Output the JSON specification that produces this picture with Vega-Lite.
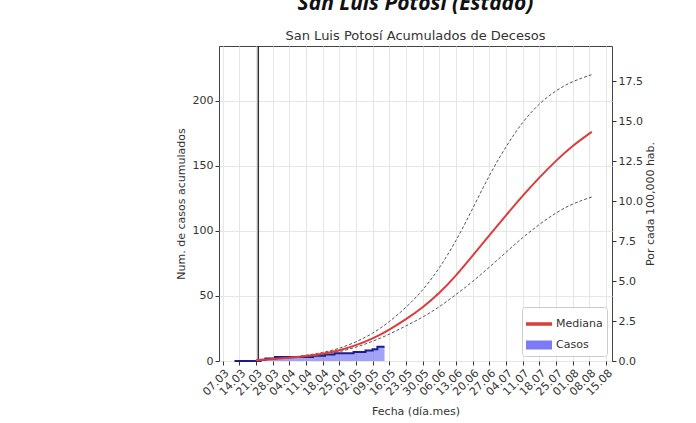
{
  "$schema": "https://vega.github.io/schema/vega-lite/v6.json",
  "width": 393,
  "height": 315,
  "autosize": {"type": "none"},
  "padding": {"left": 219, "top": 46, "right": 84, "bottom": 62},
  "background": "white",
  "title": {
    "text": "San Luis Potosí (Estado)",
    "subtitle": "San Luis Potosí Acumulados de Decesos",
    "frame": "group",
    "anchor": "middle",
    "font": "Open Sans",
    "fontSize": 21,
    "fontWeight": "bold",
    "fontStyle": "italic",
    "color": "#111111",
    "subtitleFont": "DejaVu Sans",
    "subtitleFontSize": 13,
    "subtitleColor": "#333333",
    "subtitlePadding": 16,
    "offset": 2
  },
  "datasets": {
    "curvas": [
      {"fecha": "2020-03-21", "mediana": 0.5, "sup": 0.5, "inf": 0.5},
      {"fecha": "2020-03-28", "mediana": 1.5, "sup": 1.5, "inf": 1.5},
      {"fecha": "2020-04-04", "mediana": 2.5, "sup": 2.8, "inf": 2.3},
      {"fecha": "2020-04-11", "mediana": 3.8, "sup": 4.3, "inf": 3.4},
      {"fecha": "2020-04-18", "mediana": 5.5, "sup": 6.5, "inf": 4.8},
      {"fecha": "2020-04-25", "mediana": 8, "sup": 9.5, "inf": 7},
      {"fecha": "2020-05-02", "mediana": 12, "sup": 14.5, "inf": 10.5},
      {"fecha": "2020-05-09", "mediana": 17, "sup": 21, "inf": 15},
      {"fecha": "2020-05-16", "mediana": 24, "sup": 30, "inf": 20.5},
      {"fecha": "2020-05-23", "mediana": 32, "sup": 41, "inf": 27},
      {"fecha": "2020-05-30", "mediana": 41, "sup": 54, "inf": 33.5},
      {"fecha": "2020-06-06", "mediana": 52, "sup": 71, "inf": 41.5},
      {"fecha": "2020-06-13", "mediana": 65.5, "sup": 92, "inf": 51},
      {"fecha": "2020-06-20", "mediana": 81, "sup": 117, "inf": 61},
      {"fecha": "2020-06-27", "mediana": 96.5, "sup": 143, "inf": 72},
      {"fecha": "2020-07-04", "mediana": 112, "sup": 165, "inf": 83.5},
      {"fecha": "2020-07-11", "mediana": 127, "sup": 184, "inf": 95},
      {"fecha": "2020-07-18", "mediana": 141, "sup": 198, "inf": 105},
      {"fecha": "2020-07-25", "mediana": 154, "sup": 208, "inf": 114},
      {"fecha": "2020-08-01", "mediana": 165.5, "sup": 215, "inf": 121},
      {"fecha": "2020-08-09", "mediana": 176, "sup": 220, "inf": 126}
    ],
    "casos": [
      {"fecha": "2020-03-12", "casos": 0},
      {"fecha": "2020-03-22", "casos": 0},
      {"fecha": "2020-03-23", "casos": 1},
      {"fecha": "2020-03-25", "casos": 2},
      {"fecha": "2020-03-29", "casos": 3},
      {"fecha": "2020-04-14", "casos": 4},
      {"fecha": "2020-04-19", "casos": 5},
      {"fecha": "2020-04-23", "casos": 6},
      {"fecha": "2020-05-01", "casos": 7},
      {"fecha": "2020-05-06", "casos": 8},
      {"fecha": "2020-05-09", "casos": 9},
      {"fecha": "2020-05-11", "casos": 11},
      {"fecha": "2020-05-14", "casos": 11}
    ],
    "linea": [{"fecha": "2020-03-22"}],
    "eje": [{"p": 0}, {"p": 17.5}]
  },
  "layer": [
    {
      "encoding": {
        "x": {
          "field": "fecha",
          "type": "temporal",
          "title": "Fecha (día.mes)",
          "scale": {"type": "utc", "domain": ["2020-03-05T12:00:00Z", "2020-08-17T12:00:00Z"]},
          "axis": {
            "values": [
              {"year": 2020, "month": 3, "date": 7, "utc": true},
              {"year": 2020, "month": 3, "date": 14, "utc": true},
              {"year": 2020, "month": 3, "date": 21, "utc": true},
              {"year": 2020, "month": 3, "date": 28, "utc": true},
              {"year": 2020, "month": 4, "date": 4, "utc": true},
              {"year": 2020, "month": 4, "date": 11, "utc": true},
              {"year": 2020, "month": 4, "date": 18, "utc": true},
              {"year": 2020, "month": 4, "date": 25, "utc": true},
              {"year": 2020, "month": 5, "date": 2, "utc": true},
              {"year": 2020, "month": 5, "date": 9, "utc": true},
              {"year": 2020, "month": 5, "date": 16, "utc": true},
              {"year": 2020, "month": 5, "date": 23, "utc": true},
              {"year": 2020, "month": 5, "date": 30, "utc": true},
              {"year": 2020, "month": 6, "date": 6, "utc": true},
              {"year": 2020, "month": 6, "date": 13, "utc": true},
              {"year": 2020, "month": 6, "date": 20, "utc": true},
              {"year": 2020, "month": 6, "date": 27, "utc": true},
              {"year": 2020, "month": 7, "date": 4, "utc": true},
              {"year": 2020, "month": 7, "date": 11, "utc": true},
              {"year": 2020, "month": 7, "date": 18, "utc": true},
              {"year": 2020, "month": 7, "date": 25, "utc": true},
              {"year": 2020, "month": 8, "date": 1, "utc": true},
              {"year": 2020, "month": 8, "date": 8, "utc": true},
              {"year": 2020, "month": 8, "date": 15, "utc": true}
            ],
            "format": "%d.%m",
            "labelAngle": -45,
            "labelAlign": "right",
            "labelBaseline": "top",
            "labelOverlap": false,
            "labelPadding": 2,
            "titlePadding": 8,
            "grid": true
          }
        }
      },
      "layer": [
        {
          "data": {"name": "linea"},
          "mark": {"type": "rule", "color": "#333333", "strokeWidth": 1.5}
        },
        {
          "data": {"name": "casos"},
          "mark": {"type": "area", "interpolate": "step-after", "opacity": 0.7},
          "encoding": {
            "y": {"field": "casos", "type": "quantitative", "title": "Num. de casos acumulados", "scale": {"domain": [0, 242], "nice": false}},
            "color": {"datum": "Casos"}
          }
        },
        {
          "data": {"name": "casos"},
          "mark": {"type": "line", "interpolate": "step-after", "color": "#1c1c8a", "strokeWidth": 2},
          "encoding": {
            "y": {"field": "casos", "type": "quantitative", "title": "Num. de casos acumulados"}
          }
        },
        {
          "data": {"name": "curvas"},
          "mark": {"type": "line", "color": "#555555", "strokeWidth": 1, "strokeDash": [3, 2], "interpolate": "basis"},
          "encoding": {
            "y": {"field": "sup", "type": "quantitative", "title": "Num. de casos acumulados"}
          }
        },
        {
          "data": {"name": "curvas"},
          "mark": {"type": "line", "color": "#555555", "strokeWidth": 1, "strokeDash": [3, 2], "interpolate": "basis"},
          "encoding": {
            "y": {"field": "inf", "type": "quantitative", "title": "Num. de casos acumulados"}
          }
        },
        {
          "data": {"name": "curvas"},
          "mark": {"type": "line", "strokeWidth": 2, "interpolate": "basis"},
          "encoding": {
            "y": {
              "field": "mediana",
              "type": "quantitative",
              "title": "Num. de casos acumulados",
              "axis": {"values": [0, 50, 100, 150, 200], "grid": true, "titlePadding": 6}
            },
            "color": {
              "datum": "Mediana",
              "scale": {"domain": ["Mediana", "Casos"], "range": ["#dc3c3c", "#7b7bf5"]},
              "legend": {
                "title": null,
                "orient": "bottom-right",
                "offset": 5,
                "fillColor": "white",
                "strokeColor": "#cccccc",
                "cornerRadius": 3,
                "padding": 4,
                "rowPadding": 3,
                "symbolSize": 600,
                "labelFont": "DejaVu Sans",
                "labelFontSize": 11,
                "labelColor": "#333333",
                "encode": {
                  "symbols": {
                    "update": {
                      "shape": {"signal": "datum.value === 'Mediana' ? 'M-1,-0.08H1V0.08H-1Z' : 'M-1,-0.3H1V0.3H-1Z'"},
                      "fill": {"signal": "datum.value === 'Mediana' ? '#dc3c3c' : '#7b7bf5'"},
                      "stroke": {"value": "transparent"},
                      "opacity": {"value": 1}
                    }
                  }
                }
              }
            }
          }
        }
      ]
    },
    {
      "data": {"name": "eje"},
      "mark": {"type": "point", "opacity": 0},
      "encoding": {
        "y": {
          "field": "p",
          "type": "quantitative",
          "scale": {"domain": [0, 19.7], "nice": false},
          "axis": {
            "orient": "right",
            "values": [0, 2.5, 5, 7.5, 10, 12.5, 15, 17.5],
            "format": ".1f",
            "title": "Por cada 100,000 hab.",
            "titleAngle": 270,
            "titleBaseline": "top",
            "grid": false,
            "titlePadding": 2
          }
        }
      }
    }
  ],
  "resolve": {"scale": {"y": "independent"}},
  "config": {
    "view": {"stroke": "#444444", "strokeWidth": 1},
    "axis": {
      "domain": false,
      "tickColor": "#333333",
      "tickSize": 4,
      "labelColor": "#333333",
      "labelFont": "DejaVu Sans",
      "labelFontSize": 11,
      "labelPadding": 2,
      "titleFont": "DejaVu Sans",
      "titleFontSize": 11,
      "titleFontWeight": "normal",
      "titleColor": "#333333",
      "gridColor": "#e6e6e6",
      "gridWidth": 1
    },
    "axisX": {"labelOverlap": false}
  }
}
